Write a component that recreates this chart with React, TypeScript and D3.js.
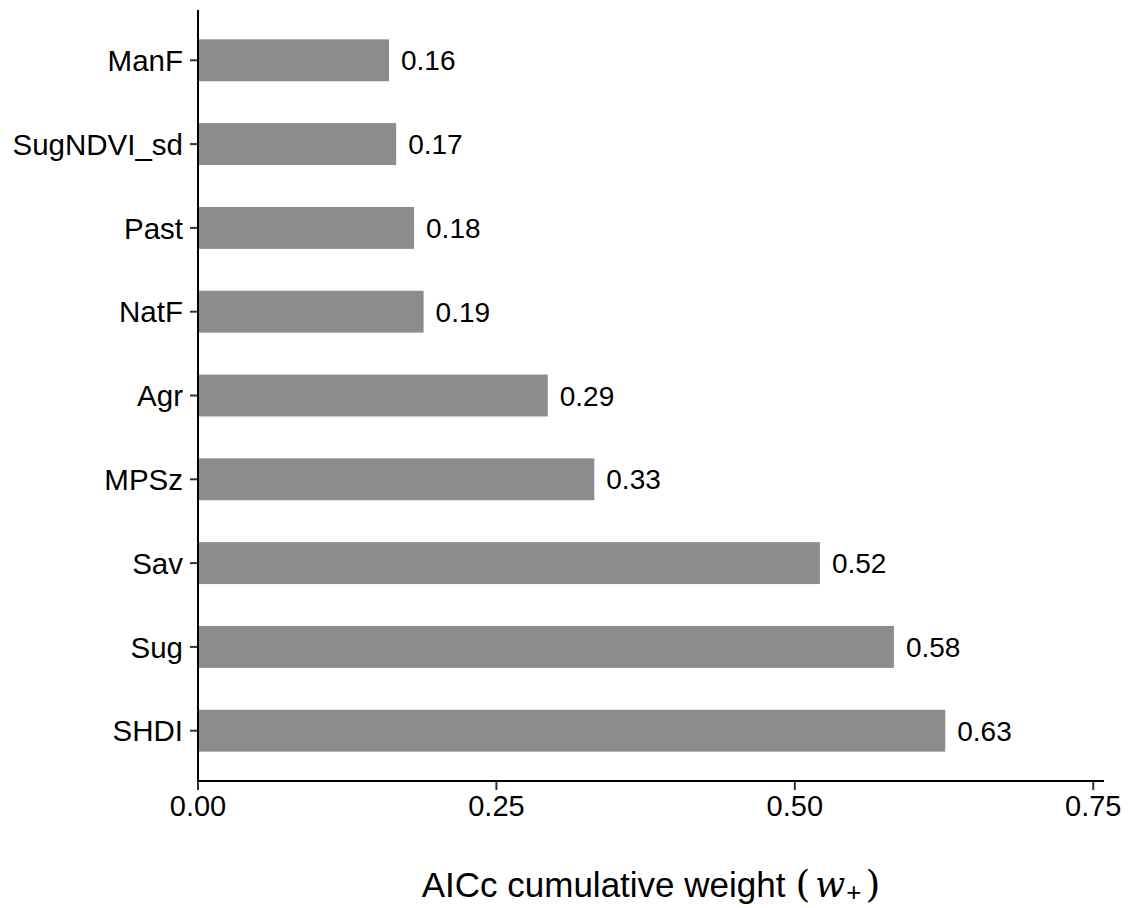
import React from 'react'
import * as d3 from 'd3'

const categories = ['ManF', 'SugNDVI_sd', 'Past', 'NatF', 'Agr', 'MPSz', 'Sav', 'Sug', 'SHDI']
const weights = [0.160, 0.166, 0.181, 0.189, 0.293, 0.332, 0.521, 0.583, 0.626]
const xTicks = [0, 0.25, 0.5, 0.75]

const W = 1133
const H = 908
const margin = { top: 10, right: 29, bottom: 127, left: 198 }
const innerW = W - margin.left - margin.right
const innerH = H - margin.top - margin.bottom
const font = '"Liberation Sans", Arial, sans-serif'
const serif = '"DejaVu Serif", serif'

export default function App() {
  const x = d3.scaleLinear().domain([0, 0.759]).range([0, innerW])
  const y = d3.scalePoint<string>().domain(categories).range([0, innerH]).padding(0.6)
  const barH = y.step() * 0.5

  return (
    <svg width={W} height={H} style={{ position: 'absolute', left: 0, top: 0, background: '#fff' }}>
      <g transform={`translate(${margin.left},${margin.top})`}>
        {categories.map((c, i) => (
          <g key={c}>
            <rect x={0} y={y(c)! - barH / 2} width={x(weights[i])} height={barH} fill="#8c8c8c" />
            <text x={x(weights[i]) + 12} y={y(c)!} dy="0.36em" fontFamily={font} fontSize={28} fill="#000">
              {weights[i].toFixed(2)}
            </text>
            <line x1={-8} x2={0} y1={y(c)!} y2={y(c)!} stroke="#333" strokeWidth={2} />
            <text x={-15} y={y(c)!} dy="0.36em" textAnchor="end" fontFamily={font} fontSize={29.5} fill="#000">
              {c}
            </text>
          </g>
        ))}
        {xTicks.map(t => (
          <g key={t} transform={`translate(${x(t)},${innerH})`}>
            <line y1={0} y2={9} stroke="#333" strokeWidth={2} />
            <text y={35} textAnchor="middle" fontFamily={font} fontSize={29} fill="#000">
              {t.toFixed(2)}
            </text>
          </g>
        ))}
        <line x1={0} x2={0} y1={0} y2={innerH + 1} stroke="#000" strokeWidth={2} />
        <line x1={-1} x2={innerW} y1={innerH} y2={innerH} stroke="#000" strokeWidth={2} />
        <text x={innerW / 2} y={innerH + 116} textAnchor="middle" fontFamily={font} fontSize={35} fill="#000">
          AICc cumulative weight
          <tspan fontFamily={serif} fontSize={38} dx={10}>(</tspan>
          <tspan fontFamily={serif} fontStyle="italic" dx={5}>w</tspan>
          <tspan fontSize={26} dy={4} dx={1}>+</tspan>
          <tspan fontFamily={serif} fontSize={38} dy={-4} dx={4}>)</tspan>
        </text>
      </g>
    </svg>
  )
}
